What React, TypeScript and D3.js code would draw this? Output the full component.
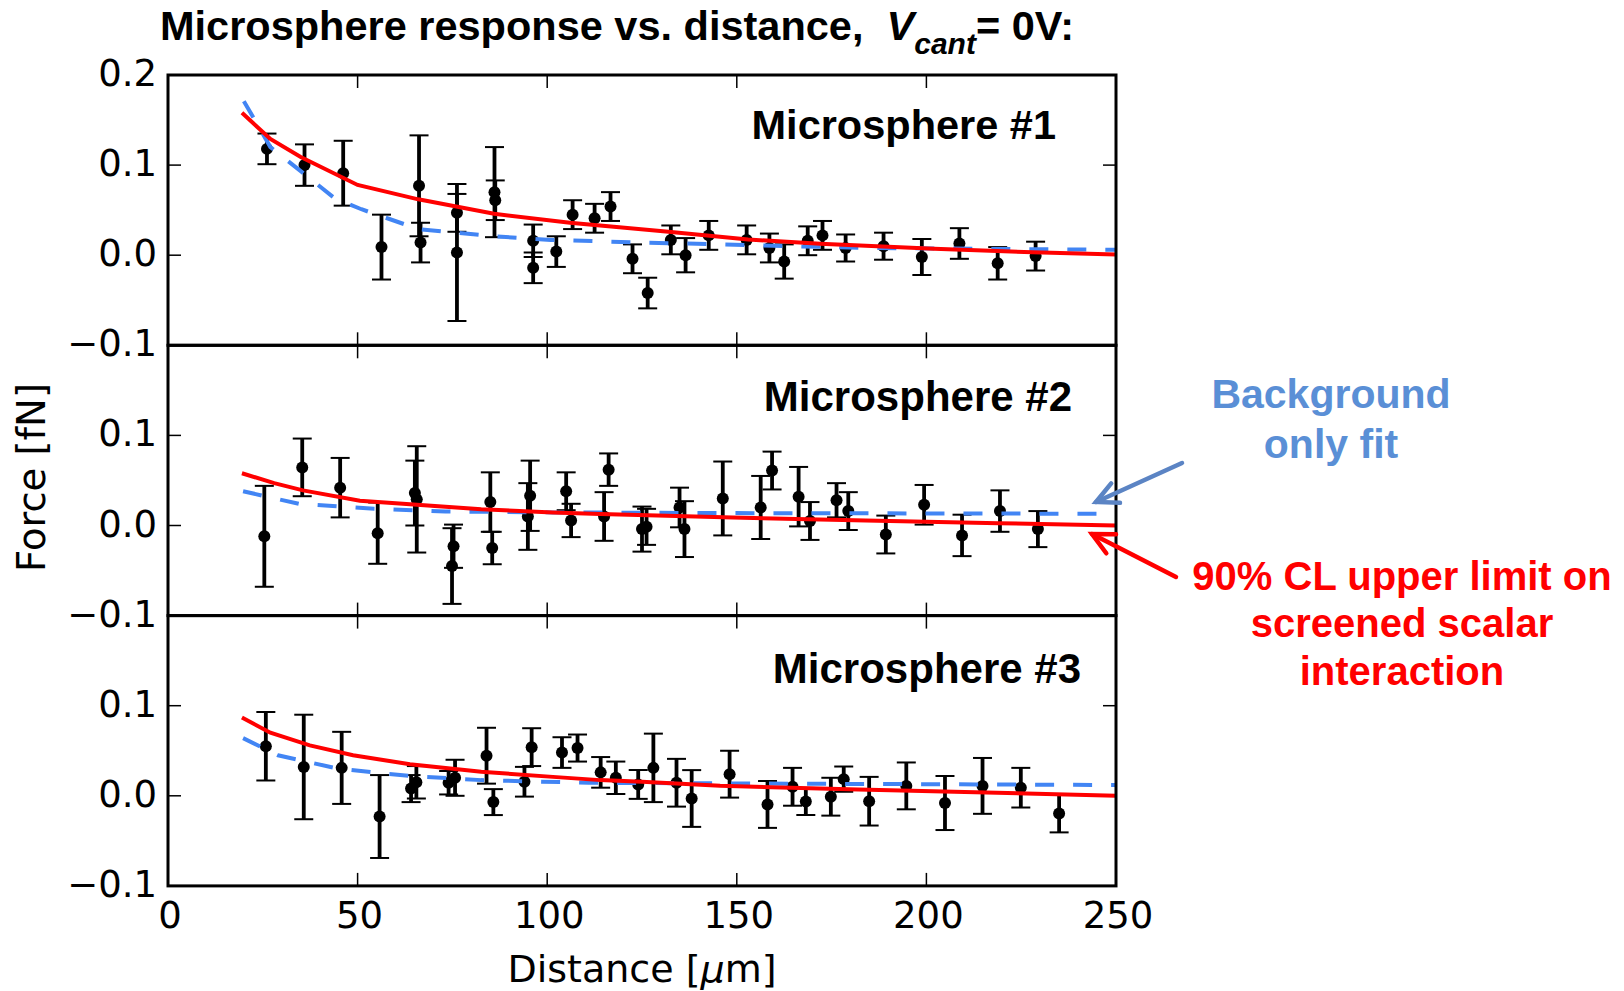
import React, { useEffect, useRef } from 'react';
import * as d3 from 'd3';

// values: distance [um], force [fN], error bar half-height [fN]
const sphere1Dist = [26.1, 36.0, 46.2, 56.3, 66.2, 66.6, 76.2, 76.2, 86.1, 86.3, 96.3, 96.3, 102.4, 106.7, 112.5, 116.7, 122.5, 126.5, 132.6, 136.5, 142.6, 152.6, 158.6, 162.5, 168.7, 172.6, 178.7, 188.7, 198.8, 208.7, 218.8, 228.8];
const sphere1Force = [0.118, 0.100, 0.091, 0.009, 0.077, 0.014, 0.047, 0.003, 0.070, 0.061, 0.016, -0.014, 0.004, 0.045, 0.041, 0.054, -0.004, -0.042, 0.017, 0.000, 0.022, 0.017, 0.008, -0.007, 0.016, 0.022, 0.008, 0.010, -0.002, 0.013, -0.009, -0.001];
const sphere1Err = [0.017, 0.023, 0.036, 0.036, 0.056, 0.022, 0.021, 0.076, 0.050, 0.022, 0.018, 0.017, 0.017, 0.016, 0.016, 0.016, 0.016, 0.017, 0.016, 0.019, 0.016, 0.016, 0.016, 0.019, 0.016, 0.016, 0.015, 0.015, 0.020, 0.017, 0.018, 0.016];

const sphere2Dist = [25.4, 35.4, 45.4, 55.3, 65.1, 65.6, 74.9, 75.3, 85.0, 85.5, 94.9, 95.5, 105.0, 106.3, 115.0, 116.2, 125.0, 126.2, 134.9, 136.2, 146.3, 156.3, 159.3, 166.3, 169.3, 176.3, 179.4, 189.3, 199.4, 209.4, 219.4, 229.4];
const sphere2Force = [-0.012, 0.0645, 0.042, -0.0085, 0.036, 0.029, -0.045, -0.023, 0.026, -0.025, 0.010, 0.033, 0.038, 0.0056, 0.010, 0.062, -0.004, -0.0015, 0.020, -0.004, 0.030, 0.020, 0.061, 0.032, 0.005, 0.028, 0.016, -0.010, 0.023, -0.011, 0.016, -0.004];
const sphere2Err = [0.056, 0.032, 0.033, 0.034, 0.036, 0.059, 0.042, 0.024, 0.033, 0.018, 0.037, 0.039, 0.021, 0.0185, 0.027, 0.018, 0.025, 0.020, 0.022, 0.031, 0.041, 0.035, 0.021, 0.033, 0.021, 0.019, 0.021, 0.021, 0.022, 0.023, 0.023, 0.020];

const sphere3Dist = [25.8, 35.8, 45.8, 55.8, 64.1, 65.5, 74.0, 75.7, 84.0, 85.8, 94.0, 95.9, 103.9, 108.0, 114.1, 118.1, 124.0, 128.0, 134.1, 138.1, 148.1, 158.1, 164.7, 168.2, 174.8, 178.2, 184.9, 194.7, 204.9, 214.8, 224.9, 235.0];
const sphere3Force = [0.055, 0.032, 0.031, -0.023, 0.008, 0.015, 0.0145, 0.020, 0.0445, -0.007, 0.0156, 0.054, 0.048, 0.053, 0.026, 0.020, 0.0126, 0.031, 0.0145, -0.003, 0.024, -0.0096, 0.010, -0.0063, -0.001, 0.0185, -0.006, 0.011, -0.008, 0.011, 0.009, -0.0196];
const sphere3Err = [0.038, 0.058, 0.040, 0.046, 0.015, 0.018, 0.013, 0.020, 0.031, 0.0144, 0.0165, 0.021, 0.017, 0.015, 0.017, 0.018, 0.016, 0.038, 0.0265, 0.0315, 0.026, 0.026, 0.021, 0.015, 0.021, 0.014, 0.027, 0.026, 0.030, 0.031, 0.022, 0.021];

// 90% CL upper limit curves (red) and background-only fits (blue dashed), [distance, force]
const sphere1Limit = [[19.5, 0.158], [27, 0.129], [35, 0.109], [50, 0.078], [66, 0.062], [86, 0.046], [106, 0.036], [132, 0.026], [153, 0.0174], [172, 0.0126], [202, 0.0071], [228, 0.0033], [250, 0.0008]];
const sphere1Background = [[20, 0.171], [27, 0.12], [36, 0.090], [44, 0.063], [51, 0.051], [66, 0.029], [86, 0.021], [101, 0.017], [125, 0.014], [146, 0.012], [184, 0.008], [250, 0.006]];
const sphere2Limit = [[19.5, 0.058], [28, 0.047], [35.6, 0.039], [50.6, 0.0274], [65.7, 0.023], [82.6, 0.018], [101.5, 0.0145], [114, 0.0127], [149, 0.0089], [184, 0.0056], [219, 0.0026], [250, 0.0]];
const sphere2Background = [[19.8, 0.038], [34.6, 0.024], [54.4, 0.0186], [73.2, 0.0156], [101.5, 0.0145], [145.6, 0.0138], [250, 0.013]];
const sphere3Limit = [[19.5, 0.087], [27, 0.070], [37.4, 0.056], [48.8, 0.045], [63.8, 0.035], [82.6, 0.0267], [101.5, 0.021], [114, 0.0174], [125, 0.0156], [145.6, 0.0111], [182, 0.0071], [250, 0.0]];
const sphere3Background = [[19.8, 0.064], [29, 0.045], [45, 0.030], [63.8, 0.022], [82.6, 0.0174], [110.9, 0.0144], [145.6, 0.0138], [250, 0.012]];

const panelLabels = ['Microsphere #1', 'Microsphere #2', 'Microsphere #3'];
const xTicks = [0, 50, 100, 150, 200, 250];
const yTicks = [-0.1, 0.0, 0.1, 0.2];

const panels = [
  { label: panelLabels[0], dist: sphere1Dist, force: sphere1Force, err: sphere1Err, limit: sphere1Limit, bg: sphere1Background },
  { label: panelLabels[1], dist: sphere2Dist, force: sphere2Force, err: sphere2Err, limit: sphere2Limit, bg: sphere2Background },
  { label: panelLabels[2], dist: sphere3Dist, force: sphere3Force, err: sphere3Err, limit: sphere3Limit, bg: sphere3Background },
];

function ForceChart() {
  const chartRef = useRef<SVGSVGElement>(null);

  useEffect(() => {
    const svg = d3.select(chartRef.current);
    svg.selectAll('*').remove();

    const left = 168, right = 1116, top = 75, panelH = 270.3;
    const mplFont = 'DejaVu Sans, sans-serif';
    const boldFont = 'Liberation Sans, Arial, sans-serif';
    const tickLen = 13;
    // label placement inside each panel (right edge, baseline offset from panel top)
    const labelRight = [1056, 1072, 1081];
    const labelBase = [64, 65.5, 67];

    const x = d3.scaleLinear().domain([0, 250]).range([left, right]);
    const fmt = d3.format('.1f');

    svg.append('rect').attr('width', 1624).attr('height', 991).attr('fill', 'white');

    panels.forEach((p, i) => {
      const y0 = top + i * panelH;
      const y = d3.scaleLinear().domain([-0.1, 0.2]).range([y0 + panelH, y0]);
      const g = svg.append('g');

      // inward ticks on all four sides
      xTicks.slice(1, -1).forEach(t => {
        g.append('line').attr('x1', x(t)).attr('x2', x(t)).attr('y1', y0).attr('y2', y0 + tickLen)
          .attr('stroke', 'black').attr('stroke-width', 1.5);
        g.append('line').attr('x1', x(t)).attr('x2', x(t)).attr('y1', y0 + panelH).attr('y2', y0 + panelH - tickLen)
          .attr('stroke', 'black').attr('stroke-width', 1.5);
      });
      yTicks.slice(1, -1).forEach(t => {
        g.append('line').attr('x1', left).attr('x2', left + tickLen).attr('y1', y(t)).attr('y2', y(t))
          .attr('stroke', 'black').attr('stroke-width', 1.5);
        g.append('line').attr('x1', right).attr('x2', right - tickLen).attr('y1', y(t)).attr('y2', y(t))
          .attr('stroke', 'black').attr('stroke-width', 1.5);
      });

      // y tick labels (only the top panel shows 0.2)
      const shown = i === 0 ? yTicks : yTicks.filter(t => t < 0.15);
      shown.forEach(t => {
        g.append('text')
          .attr('x', left - 11).attr('y', y(t) + 11)
          .attr('text-anchor', 'end')
          .attr('font-family', mplFont).attr('font-size', 37)
          .text(fmt(t));
      });

      // data points with error bars
      p.dist.forEach((d, k) => {
        const f = p.force[k], e = p.err[k];
        g.append('line').attr('x1', x(d)).attr('x2', x(d)).attr('y1', y(f - e)).attr('y2', y(f + e))
          .attr('stroke', 'black').attr('stroke-width', 3.8);
        [f - e, f + e].forEach(v => {
          g.append('line').attr('x1', x(d) - 9.5).attr('x2', x(d) + 9.5).attr('y1', y(v)).attr('y2', y(v))
            .attr('stroke', 'black').attr('stroke-width', 2);
        });
        g.append('circle').attr('cx', x(d)).attr('cy', y(f)).attr('r', 6).attr('fill', 'black');
      });

      const line = d3.line<number[]>()
        .x(d => x(d[0]))
        .y(d => y(d[1]));

      g.append('path')
        .datum(p.bg)
        .attr('fill', 'none')
        .attr('stroke', '#4285f4')
        .attr('stroke-width', 4)
        .attr('stroke-dasharray', '19 19')
        .attr('d', line);

      g.append('path')
        .datum(p.limit)
        .attr('fill', 'none')
        .attr('stroke', '#ff0000')
        .attr('stroke-width', 4)
        .attr('d', line);

      g.append('rect')
        .attr('x', left).attr('y', y0).attr('width', right - left).attr('height', panelH)
        .attr('fill', 'none').attr('stroke', 'black').attr('stroke-width', 3);

      g.append('text')
        .attr('x', labelRight[i]).attr('y', y0 + labelBase[i])
        .attr('text-anchor', 'end')
        .attr('font-family', boldFont).attr('font-weight', 'bold').attr('font-size', i === 0 ? 41.5 : 42)
        .text(p.label);
    });

    // x tick labels under the bottom panel
    const bottom = top + 3 * panelH;
    xTicks.forEach(t => {
      svg.append('text')
        .attr('x', x(t) + 2).attr('y', bottom + 42)
        .attr('text-anchor', 'middle')
        .attr('font-family', mplFont).attr('font-size', 37)
        .text(t);
    });

    // axis labels
    const xl = svg.append('text')
      .attr('x', (left + right) / 2).attr('y', 982)
      .attr('text-anchor', 'middle')
      .attr('font-family', mplFont).attr('font-size', 38);
    xl.append('tspan').text('Distance [');
    xl.append('tspan').attr('font-style', 'italic').text('\u03bc');
    xl.append('tspan').text('m]');

    svg.append('text')
      .attr('transform', 'translate(45,477.5) rotate(-90)')
      .attr('text-anchor', 'middle')
      .attr('font-family', mplFont).attr('font-size', 38.5)
      .text('Force [fN]');

    // title
    const title = svg.append('text')
      .attr('x', 160).attr('y', 40)
      .attr('font-family', boldFont).attr('font-weight', 'bold').attr('font-size', 41.5)
      .style('white-space', 'pre');
    title.append('tspan').text('Microsphere response vs. distance,  ');
    title.append('tspan').attr('font-style', 'italic').text('V');
    title.append('tspan').attr('font-style', 'italic').attr('font-size', 30).attr('dy', 14).text('cant');
    title.append('tspan').attr('dy', -14).text('= 0V:');

    // annotations
    const blue = '#5a8fd6';
    [['Background', 408], ['only fit', 458]].forEach(([s, yy]) => {
      svg.append('text')
        .attr('x', 1331).attr('y', yy as number)
        .attr('text-anchor', 'middle')
        .attr('font-family', boldFont).attr('font-weight', 'bold').attr('font-size', 41)
        .attr('fill', blue)
        .text(s as string);
    });
    [['90% CL upper limit on', 590], ['screened scalar', 637], ['interaction', 685]].forEach(([s, yy]) => {
      svg.append('text')
        .attr('x', 1402).attr('y', yy as number)
        .attr('text-anchor', 'middle')
        .attr('font-family', boldFont).attr('font-weight', 'bold').attr('font-size', 40)
        .attr('fill', '#ff0000')
        .text(s as string);
    });

    const arrow = (x1: number, y1: number, x2: number, y2: number, color: string) => {
      const ang = Math.atan2(y1 - y2, x1 - x2);
      const wing = 24, spread = 0.46;
      svg.append('line').attr('x1', x1).attr('y1', y1).attr('x2', x2).attr('y2', y2)
        .attr('stroke', color).attr('stroke-width', 4.5).attr('stroke-linecap', 'round');
      const pts = [
        [x2 + wing * Math.cos(ang + spread), y2 + wing * Math.sin(ang + spread)],
        [x2, y2],
        [x2 + wing * Math.cos(ang - spread), y2 + wing * Math.sin(ang - spread)],
      ];
      svg.append('polyline').attr('points', pts.map(q => q.join(',')).join(' '))
        .attr('fill', 'none').attr('stroke', color).attr('stroke-width', 4.5)
        .attr('stroke-linecap', 'round').attr('stroke-linejoin', 'miter');
    };
    arrow(1182, 463, 1096, 502, '#5b84c4');
    arrow(1176, 577, 1092, 534, '#ff0000');
  }, []);

  return (
    <svg ref={chartRef} width="1624" height="991"
      style={{ position: 'absolute', left: 0, top: 0, display: 'block' }} />
  );
}

export default function App() {
  return <ForceChart />;
}
